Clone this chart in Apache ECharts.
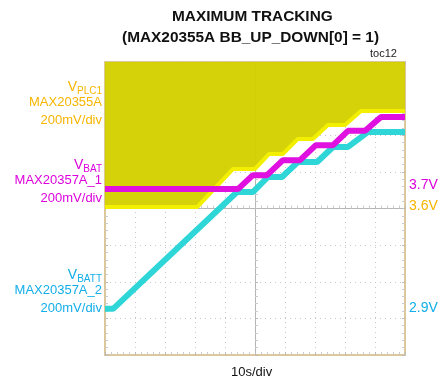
<!DOCTYPE html>
<html>
<head>
<meta charset="utf-8">
<script src="https://cdn.jsdelivr.net/npm/echarts@6/dist/echarts.min.js"></script>
<style>
  html, body { margin: 0; padding: 0; background: #fff; }
  #chart { width: 446px; height: 381px; }
</style>
</head>
<body>
<div id="chart"></div>
<script>
// time in seconds (10 s/div), level in screen divisions (0 = bottom, 8 = top)
var timeVplc1 = [0, 30.7, 42.7, 50, 54.7, 59.3, 64.3, 69.3, 74.3, 80, 85.3, 100];
var divVplc1  = [4.04, 4.04, 5.08, 5.08, 5.49, 5.49, 5.90, 5.90, 6.28, 6.28, 6.66, 6.66];

var timeVbat = [0, 44.3, 49.3, 54, 59.3, 65, 70.3, 76, 81, 86.7, 92, 100];
var divVbat  = [4.53, 4.53, 4.91, 4.91, 5.32, 5.32, 5.73, 5.73, 6.12, 6.12, 6.50, 6.50];

var timeVbatt = [0, 2.7, 44, 49.3, 54.3, 59, 64.3, 70.7, 76, 81, 87.7, 100];
var divVbatt  = [1.26, 1.26, 4.45, 4.45, 4.86, 4.86, 5.27, 5.27, 5.68, 5.68, 6.09, 6.09];

var refLabels = ['3.6V', '3.7V', '2.9V'];

var font = '"Liberation Sans", Arial, sans-serif';
var cOrange = '#f7b500';
var cMagenta = '#dc00dc';
var cCyanText = '#12aee8';
var borderColor = '#dcc79a';

function pairs(t, v) {
  return t.map(function (x, i) { return [x, v[i]]; });
}

function xAx(pos, offset, border) {
  return {
    type: 'value', min: 0, max: 100, interval: 10, position: pos, offset: offset,
    axisLabel: { show: false },
    axisLine: { show: true, onZero: false, lineStyle: { color: border ? borderColor : '#b5b5b5', width: border ? 2 : 1 } },
    axisTick: { show: true, inside: true, length: 3, lineStyle: { color: '#bbb' } },
    minorTick: { show: true, splitNumber: 5, length: 3, lineStyle: { color: '#ccc' } },
    splitLine: { show: pos === 'bottom' && border, lineStyle: { color: '#c6c6c6', type: [1, 4], width: 1 } }
  };
}
function yAx(pos, offset, border) {
  return {
    type: 'value', min: 0, max: 8, interval: 1, position: pos, offset: offset,
    axisLabel: { show: false },
    axisLine: { show: true, onZero: false, lineStyle: { color: border ? borderColor : '#b5b5b5', width: border ? 2 : 1 } },
    axisTick: { show: true, inside: true, length: 3, lineStyle: { color: '#bbb' } },
    minorTick: { show: true, splitNumber: 5, length: 3, lineStyle: { color: '#ccc' } },
    splitLine: { show: pos === 'left' && border, lineStyle: { color: '#c6c6c6', type: [1, 4], width: 1 } }
  };
}

function sideLabel(lines, color, top, sub) {
  var items = [];
  items.push({
    type: 'text', right: 344, top: top,
    style: {
      text: '{a|V}{b|' + sub + '}', align: 'right',
      rich: {
        a: { fontSize: 14, fontFamily: font, fill: color, verticalAlign: 'top', lineHeight: 16 },
        b: { fontSize: 10, fontFamily: font, fill: color, verticalAlign: 'bottom', lineHeight: 16 }
      }
    }
  });
  lines.forEach(function (s, i) {
    items.push({
      type: 'text', right: 344, top: top + 16 + i * 18,
      style: { text: s, fontSize: 13, fontFamily: font, fill: color, align: 'right' }
    });
  });
  return items;
}

var chart = echarts.init(document.getElementById('chart'));

var graphics = [
  { type: 'text', left: 172, top: 9, style: { text: 'MAXIMUM TRACKING', fontSize: 15.4, fontWeight: 'bold', fontFamily: font, fill: '#111' } },
  { type: 'text', left: 122, top: 30, style: { text: '(MAX20355A BB_UP_DOWN[0] = 1)', fontSize: 15.4, fontWeight: 'bold', fontFamily: font, fill: '#111' } },
  { type: 'text', left: 370, top: 48, style: { text: 'toc12', fontSize: 11, fontFamily: font, fill: '#222' } },
  { type: 'text', left: 231, top: 366, style: { text: '10s/div', fontSize: 13, fontFamily: font, fill: '#111' } }
]
  .concat(sideLabel(['MAX20355A', '200mV/div'], cOrange, 80, 'PLC1'))
  .concat(sideLabel(['MAX20357A_1', '200mV/div'], cMagenta, 158, 'BAT'))
  .concat(sideLabel(['MAX20357A_2', '200mV/div'], cCyanText, 268, 'BATT'));

chart.setOption({
  animation: false,
  grid: { left: 105, top: 62, width: 300, height: 293 },
  xAxis: [xAx('bottom', 0, true), xAx('top', 0, true), xAx('bottom', -146.5, false)],
  yAxis: [yAx('left', 0, true), yAx('right', 0, true), yAx('left', -150, false)],
  graphic: graphics,
  series: [
    {
      name: 'VPLC1', type: 'line', data: pairs(timeVplc1, divVplc1), symbol: 'none', z: 2,
      lineStyle: { color: '#f3ef00', width: 4 },
      areaStyle: { color: '#d3d000', origin: 'end', opacity: 0.96 }
    },
    {
      name: 'VBATT', type: 'line', data: pairs(timeVbatt, divVbatt), symbol: 'none', z: 3,
      lineStyle: { color: '#2ed6d8', width: 6 }
    },
    {
      name: 'VBAT', type: 'line', data: pairs(timeVbat, divVbat), symbol: 'none', z: 4,
      lineStyle: { color: '#e010e0', width: 6 }
    }
  ]
});

// channel reference levels on the right, at each trace's starting level
var starts = [divVplc1[0], divVbat[0], divVbatt[0]];
var colors = [cOrange, cMagenta, cCyanText];
var right = starts.map(function (d, i) {
  var p = chart.convertToPixel({ xAxisIndex: 0, yAxisIndex: 0 }, [100, d]);
  return {
    type: 'text', left: p[0] + 4, top: p[1] - 8 + (i === 1 ? -3 : 0),
    style: { text: refLabels[i], fontSize: 14, fontFamily: font, fill: colors[i] }
  };
});
chart.setOption({ graphic: graphics.concat(right) });
</script>
</body>
</html>
